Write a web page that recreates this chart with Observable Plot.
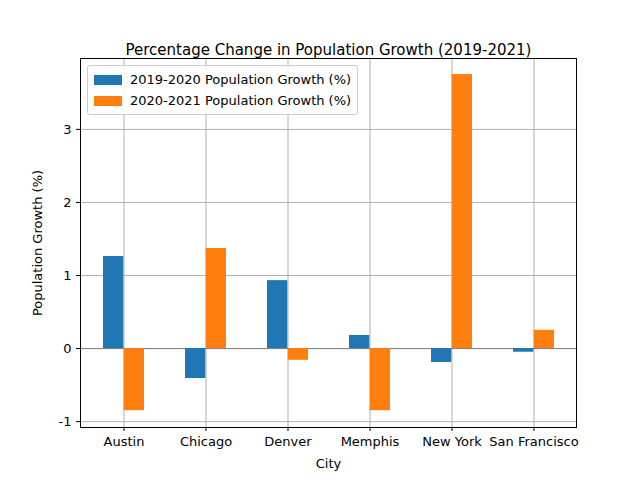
<!DOCTYPE html>
<html><head>
<meta charset="utf-8">
<script src="https://cdn.jsdelivr.net/npm/d3@7"></script>
<script src="https://cdn.jsdelivr.net/npm/@observablehq/plot@0.6"></script>
<style>
body{margin:0;background:#fff;font-family:"DejaVu Sans",sans-serif}
#wrap{position:relative;width:640px;height:480px}
#legend{position:absolute;left:87px;top:65px;border:1px solid #ccc;border-radius:3px;background:rgba(255,255,255,0.85);padding:3px 6px;font-size:13px}
#legend div{display:flex;align-items:center;height:21px}
#legend span.sw{display:inline-block;width:28px;height:10px;margin-right:8px}
</style>
</head><body>
<div id="wrap"><div id="legend"></div></div>
<script>
const cities = ["Austin", "Chicago", "Denver", "Memphis", "New York", "San Francisco"];
const growth1920 = [1.26, -0.41, 0.93, 0.18, -0.19, -0.05];
const growth2021 = [-0.85, 1.37, -0.16, -0.85, 3.75, 0.25];
const seriesNames = ["2019-2020 Population Growth (%)", "2020-2021 Population Growth (%)"];
const colors = ["#1f77b4", "#ff7f0e"];

const d1 = cities.map((c, i) => ({city: c, v: growth1920[i]}));
const d2 = cities.map((c, i) => ({city: c, v: growth2021[i]}));

const chart = Plot.plot({
  width: 640, height: 480,
  marginLeft: 80, marginRight: 64, marginTop: 58, marginBottom: 53,
  style: {fontFamily: "DejaVu Sans", fontSize: "13px", color: "#000"},
  x: {domain: cities, paddingInner: 0.5, paddingOuter: 0.25, grid: true, label: "City", labelAnchor: "center", labelOffset: 40, tickSize: 4},
  y: {domain: [-1.08, 3.97], ticks: [-1, 0, 1, 2, 3], tickFormat: d => d < 0 ? "-" + (-d) : String(d), grid: true, label: "Population Growth (%)", labelAnchor: "center", labelOffset: 48, tickSize: 4, labelArrow: "none"},
  marks: [
    Plot.ruleY([0], {stroke: "#000", strokeOpacity: 0.3}),
    Plot.barY(d1, {x: "city", y: "v", fill: colors[0], insetRight: 20.7}),
    Plot.barY(d2, {x: "city", y: "v", fill: colors[1], insetLeft: 20.7}),
    Plot.frame(),
    Plot.text(["Percentage Change in Population Growth (2019-2021)"], {frameAnchor: "top", dy: -14, fontSize: 15})
  ]
});
chart.querySelectorAll("[aria-label$='grid'] line, [aria-label$='grid'] path").forEach(e => {e.setAttribute("stroke", "#b0b0b0"); e.setAttribute("stroke-opacity", 1);});
document.getElementById("wrap").prepend(chart);

const lg = document.getElementById("legend");
seriesNames.forEach((n, i) => {
  const d = document.createElement("div");
  d.innerHTML = `<span class="sw" style="background:${colors[i]}"></span>${n}`;
  lg.appendChild(d);
});
</script>
</body></html>
